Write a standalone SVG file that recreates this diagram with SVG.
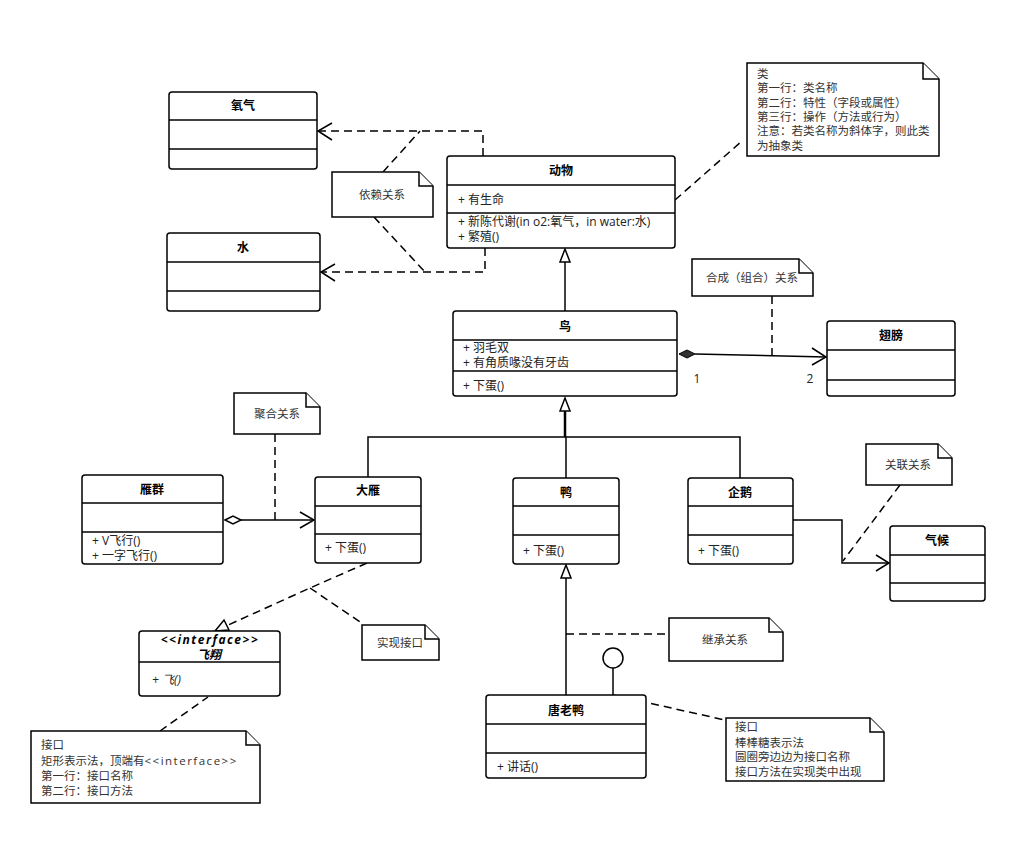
<svg xmlns="http://www.w3.org/2000/svg" width="1016" height="849" viewBox="0 0 1016 849">
<style>
.box{fill:#fff;stroke:#000;stroke-width:1.5}
.div{stroke:#000;stroke-width:1.3}
.t{font-family:"Open Sans","Noto Sans CJK SC",sans-serif;font-size:12px;fill:#222}
.title{font-family:"Open Sans","Noto Sans CJK SC",sans-serif;font-size:12px;font-weight:bold;fill:#000}
.nt{font-family:"Open Sans","Noto Sans CJK SC",sans-serif;font-size:11.5px;fill:#333}
.note{fill:#fff;stroke:#000;stroke-width:1.5}
.solid{fill:none;stroke:#000;stroke-width:1.5}
.dash{fill:none;stroke:#000;stroke-width:1.5;stroke-dasharray:8 5}
.open{fill:none;stroke:#000;stroke-width:1.5}
.hollow{fill:#fff;stroke:#000;stroke-width:1.5}
</style>

<g id="connectors">
  <path class="dash" d="M483,156 V131 H318"/>
  <path class="open" d="M332,123 L318,131 L332,140"/>
  <path class="dash" d="M485,248 V272 H321"/>
  <path class="open" d="M335,264 L321,272 L335,281"/>
  <path class="dash" d="M383,172 L420,131"/>
  <path class="dash" d="M374,217 L425,272"/>
  <path class="dash" d="M675,200 L742,141"/>
  <path class="solid" d="M565,311 V262"/>
  <path class="hollow" d="M565,249 L560,262 L570,262 Z"/>
  <path class="solid" d="M695,354 L826,357"/>
  <path d="M679,354 L687,350 L695,354 L687,358 Z" fill="#333" stroke="#000" stroke-width="1"/>
  <path class="open" d="M812,348 L826,357 L812,365"/>
  <path class="dash" d="M772,296 V356"/>
  <path class="solid" d="M368,477 V437 H740 V478"/>
  <path class="solid" d="M566,478 V437"/>
  <path d="M565,437 V411" stroke-width="2.5" fill="none" stroke="#000"/>
  <path class="hollow" d="M565,398 L560,411 L570,411 Z"/>
  <path class="solid" d="M241,520 H314"/>
  <path class="hollow" d="M225,520 L233,516 L241,520 L233,524 Z"/>
  <path class="open" d="M300,512 L314,520 L300,528"/>
  <path class="dash" d="M275,434 V520"/>
  <path class="solid" d="M793,520 H842 V563 H889"/>
  <path class="open" d="M876,555 L889,563 L876,571"/>
  <path class="dash" d="M900,485 L843,561"/>
  <path class="dash" d="M367,563 L310,588 L226,626"/>
  <path class="hollow" d="M215,631 L224,620 L229,630 Z"/>
  <path class="dash" d="M310,588 L363,624"/>
  <path class="dash" d="M160,731 L208,697"/>
  <path class="solid" d="M566,695 V578"/>
  <path class="hollow" d="M566,565 L561,578 L571,578 Z"/>
  <path class="dash" d="M566,634 H669"/>
  <path class="solid" d="M613,668 V695"/>
  <circle cx="613" cy="658" r="10" fill="#fff" stroke="#000" stroke-width="1.5"/>
  <path class="dash" d="M613,695 L725,720"/>
</g>

<g id="oxygen">
  <rect class="box" x="169" y="92" width="148" height="77" rx="3"/>
  <line class="div" x1="169" y1="120" x2="317" y2="120"/>
  <line class="div" x1="169" y1="149" x2="317" y2="149"/>
  <text class="title" x="243" y="110" text-anchor="middle">氧气</text>
</g>

<g id="water">
  <rect class="box" x="167" y="233" width="153" height="78" rx="3"/>
  <line class="div" x1="167" y1="262" x2="320" y2="262"/>
  <line class="div" x1="167" y1="291" x2="320" y2="291"/>
  <text class="title" x="243" y="252" text-anchor="middle">水</text>
</g>

<g id="animal">
  <rect class="box" x="447" y="156" width="228" height="92" rx="3"/>
  <line class="div" x1="447" y1="185" x2="675" y2="185"/>
  <line class="div" x1="447" y1="213" x2="675" y2="213"/>
  <text class="title" x="561" y="175" text-anchor="middle">动物</text>
  <text class="t" x="458" y="204">+ 有生命</text>
  <text class="t" x="458" y="226">+ 新陈代谢(in o2:氧气，in water:水)</text>
  <text class="t" x="458" y="241">+ 繁殖()</text>
</g>

<g id="note-class">
  <path class="note" d="M747,63 H923 L939,79 V156 H747 Z"/>
  <path class="note" d="M923,63 V79 H939" fill="none"/>
  <text class="nt" x="757" y="78">类</text>
  <text class="nt" x="757" y="92">第一行：类名称</text>
  <text class="nt" x="757" y="107">第二行：特性（字段或属性）</text>
  <text class="nt" x="757" y="121">第三行：操作（方法或行为）</text>
  <text class="nt" x="757" y="135">注意：若类名称为斜体字，则此类</text>
  <text class="nt" x="757" y="150">为抽象类</text>
</g>

<g id="note-dependency">
  <path class="note" d="M332,172 H419 L433,186 V217 H332 Z"/>
  <path class="note" d="M419,172 V186 H433" fill="none"/>
  <text class="nt" x="382" y="199" text-anchor="middle">依赖关系</text>
</g>

<g id="bird">
  <rect class="box" x="453" y="311" width="224" height="85" rx="3"/>
  <line class="div" x1="453" y1="340" x2="677" y2="340"/>
  <line class="div" x1="453" y1="371" x2="677" y2="371"/>
  <text class="title" x="565" y="331" text-anchor="middle">鸟</text>
  <text class="t" x="463" y="352">+ 羽毛双</text>
  <text class="t" x="463" y="367">+ 有角质喙没有牙齿</text>
  <text class="t" x="463" y="390">+ 下蛋()</text>
  <text class="t" x="697" y="383" text-anchor="middle">1</text>
  <text class="t" x="810" y="383" text-anchor="middle">2</text>
</g>

<g id="note-composition">
  <path class="note" d="M692,259 H799 L813,273 V296 H692 Z"/>
  <path class="note" d="M799,259 V273 H813" fill="none"/>
  <text class="nt" x="752" y="282" text-anchor="middle">合成（组合）关系</text>
</g>

<g id="wing">
  <rect class="box" x="827" y="321" width="128" height="75" rx="3"/>
  <line class="div" x1="827" y1="350" x2="955" y2="350"/>
  <line class="div" x1="827" y1="380" x2="955" y2="380"/>
  <text class="title" x="891" y="340" text-anchor="middle">翅膀</text>
</g>

<g id="note-aggregation">
  <path class="note" d="M234,393 H306 L320,407 V434 H234 Z"/>
  <path class="note" d="M306,393 V407 H320" fill="none"/>
  <text class="nt" x="277" y="418" text-anchor="middle">聚合关系</text>
</g>

<g id="goose-flock">
  <rect class="box" x="82" y="475" width="141" height="89" rx="3"/>
  <line class="div" x1="82" y1="503" x2="223" y2="503"/>
  <line class="div" x1="82" y1="532" x2="223" y2="532"/>
  <text class="title" x="152" y="494" text-anchor="middle">雁群</text>
  <text class="t" x="92" y="545" font-size="11.5">+ V飞行()</text>
  <text class="t" x="92" y="560" font-size="11.5">+ 一字飞行()</text>
</g>

<g id="wild-goose">
  <rect class="box" x="315" y="477" width="106" height="86" rx="3"/>
  <line class="div" x1="315" y1="506" x2="421" y2="506"/>
  <line class="div" x1="315" y1="534" x2="421" y2="534"/>
  <text class="title" x="368" y="495" text-anchor="middle">大雁</text>
  <text class="t" x="325" y="552">+ 下蛋()</text>
</g>

<g id="duck">
  <rect class="box" x="513" y="478" width="106" height="86" rx="3"/>
  <line class="div" x1="513" y1="506" x2="619" y2="506"/>
  <line class="div" x1="513" y1="535" x2="619" y2="535"/>
  <text class="title" x="566" y="497" text-anchor="middle">鸭</text>
  <text class="t" x="523" y="555">+ 下蛋()</text>
</g>

<g id="penguin">
  <rect class="box" x="688" y="478" width="105" height="86" rx="3"/>
  <line class="div" x1="688" y1="506" x2="793" y2="506"/>
  <line class="div" x1="688" y1="535" x2="793" y2="535"/>
  <text class="title" x="740" y="497" text-anchor="middle">企鹅</text>
  <text class="t" x="698" y="555">+ 下蛋()</text>
</g>

<g id="note-association">
  <path class="note" d="M866,444 H938 L952,458 V485 H866 Z"/>
  <path class="note" d="M938,444 V458 H952" fill="none"/>
  <text class="nt" x="908" y="469" text-anchor="middle">关联关系</text>
</g>

<g id="climate">
  <rect class="box" x="890" y="526" width="95" height="75" rx="3"/>
  <line class="div" x1="890" y1="555" x2="985" y2="555"/>
  <line class="div" x1="890" y1="583" x2="985" y2="583"/>
  <text class="title" x="937" y="545" text-anchor="middle">气候</text>
</g>

<g id="fly-interface">
  <rect class="box" x="139" y="631" width="141" height="65" rx="3"/>
  <line class="div" x1="139" y1="662" x2="280" y2="662"/>
  <text class="title" x="210" y="644" text-anchor="middle" font-style="italic" letter-spacing="1.5">&lt;&lt;interface&gt;&gt;</text>
  <text class="title" x="209" y="659" text-anchor="middle" font-style="italic">飞翔</text>
  <text class="t" x="152" y="684" font-style="italic">+ 飞()</text>
</g>

<g id="note-realization">
  <path class="note" d="M362,625 H425 L439,639 V660 H362 Z"/>
  <path class="note" d="M425,625 V639 H439" fill="none"/>
  <text class="nt" x="400" y="647" text-anchor="middle">实现接口</text>
</g>

<g id="note-interface">
  <path class="note" d="M31,731 H246 L260,745 V803 H31 Z"/>
  <path class="note" d="M246,731 V745 H260" fill="none"/>
  <text class="nt" x="41" y="749">接口</text>
  <text class="nt" x="41" y="765">矩形表示法，顶端有<tspan letter-spacing="1.5">&lt;&lt;interface&gt;&gt;</tspan></text>
  <text class="nt" x="41" y="780">第一行：接口名称</text>
  <text class="nt" x="41" y="795">第二行：接口方法</text>
</g>

<g id="note-inheritance">
  <path class="note" d="M669,618 H769 L783,632 V661 H669 Z"/>
  <path class="note" d="M769,618 V632 H783" fill="none"/>
  <text class="nt" x="725" y="644" text-anchor="middle">继承关系</text>
</g>

<g id="donald-duck">
  <rect class="box" x="486" y="695" width="160" height="83" rx="3"/>
  <line class="div" x1="486" y1="724" x2="646" y2="724"/>
  <line class="div" x1="486" y1="753" x2="646" y2="753"/>
  <text class="title" x="566" y="715" text-anchor="middle">唐老鸭</text>
  <text class="t" x="497" y="771">+ 讲话()</text>
</g>

<g id="note-lollipop">
  <path class="note" d="M726,718 H870 L884,732 V781 H726 Z"/>
  <path class="note" d="M870,718 V732 H884" fill="none"/>
  <text class="nt" x="735" y="731">接口</text>
  <text class="nt" x="735" y="747">棒棒糖表示法</text>
  <text class="nt" x="735" y="761">圆圈旁边边为接口名称</text>
  <text class="nt" x="735" y="776">接口方法在实现类中出现</text>
</g>
</svg>
